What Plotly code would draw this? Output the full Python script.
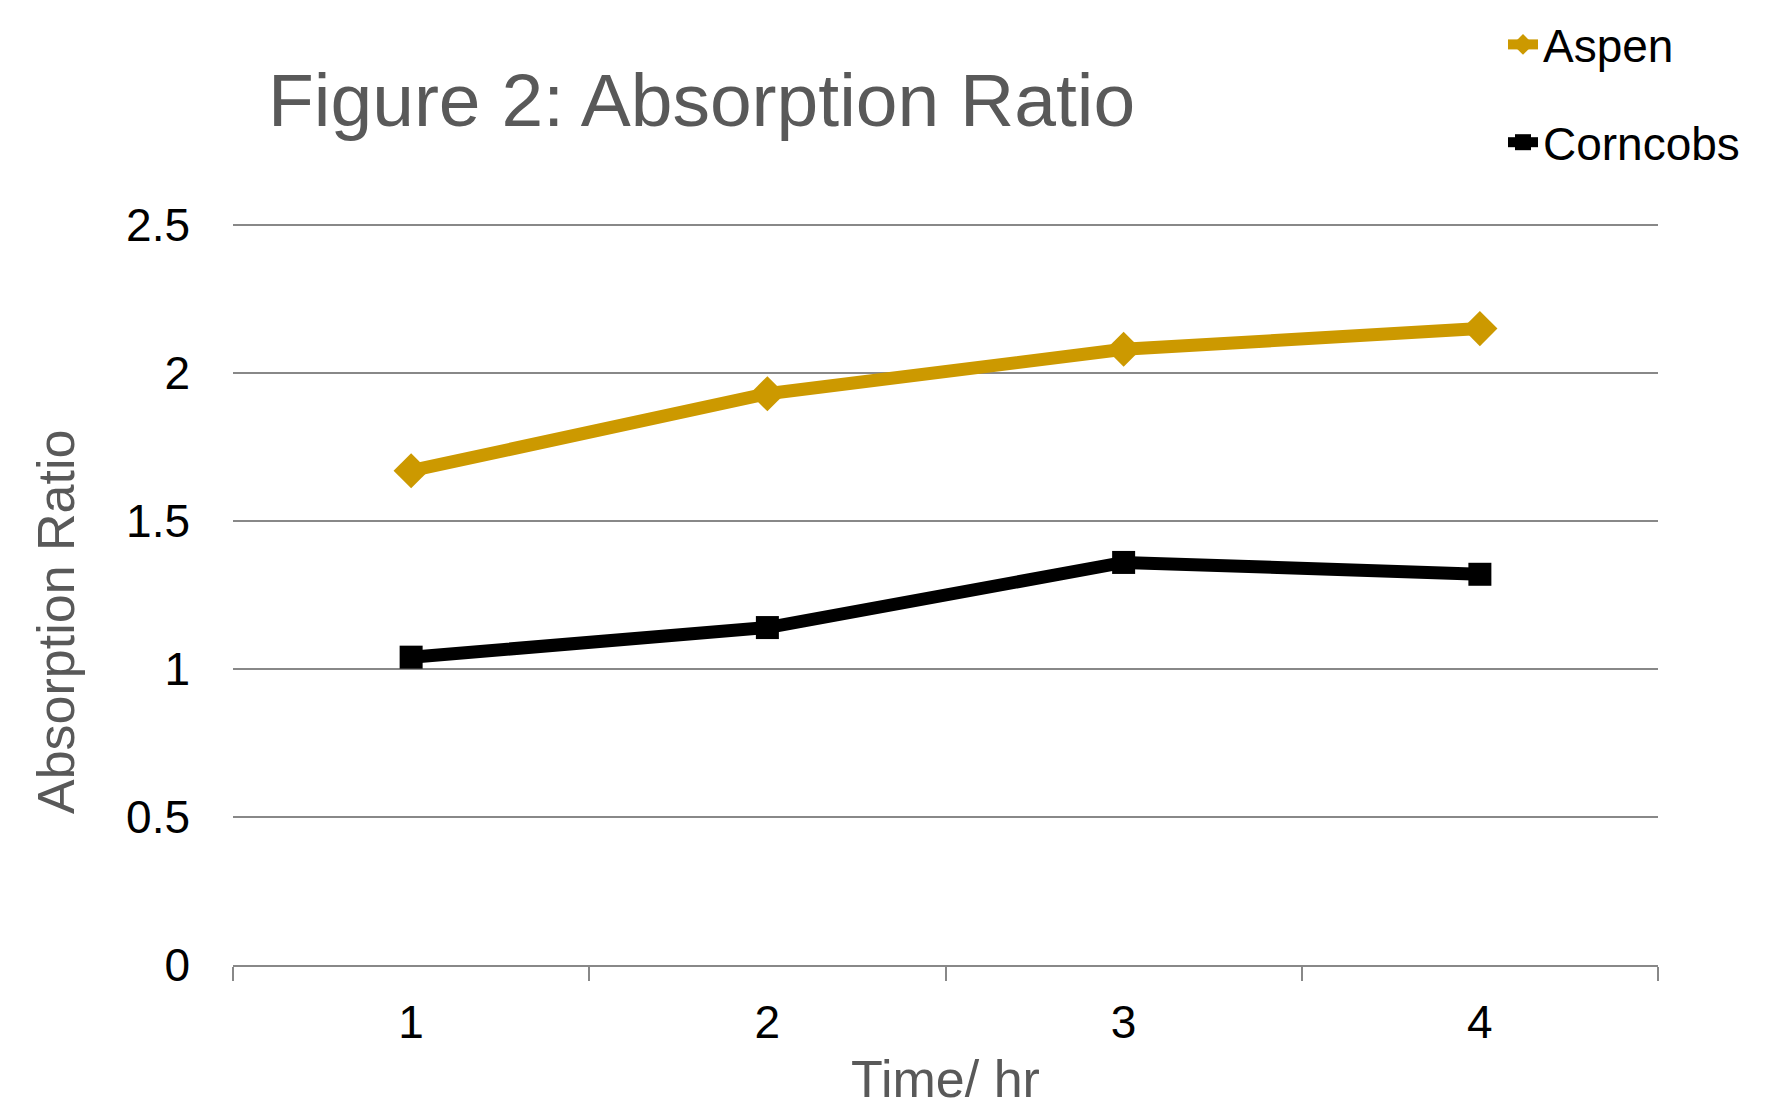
import plotly.graph_objects as go

# Absorption ratio measured over time for two substrates
hours = ["1", "2", "3", "4"]
aspen = [1.67, 1.93, 2.08, 2.15]
corncobs = [1.04, 1.14, 1.36, 1.32]
y_ticks = [0, 0.5, 1, 1.5, 2, 2.5]
y_tick_text = ["0", "0.5", "1", "1.5", "2", "2.5"]

W, H = 1785, 1108
FONT = "Liberation Sans, Arial, sans-serif"

# plot area: a little headroom above the top gridline so it is drawn
TOP, BOTTOM = 215, 143
PLOT_H = H - TOP - BOTTOM
Y_MAX = 2.5 * PLOT_H / 740

fig = go.Figure()
fig.add_trace(go.Scatter(
    x=hours, y=aspen, name="Aspen", mode="lines+markers",
    legendgroup="a",
    line=dict(color="#CC9900", width=13),
    marker=dict(symbol="diamond", size=27, color="#CC9900"),
))
fig.add_trace(go.Scatter(
    x=hours, y=corncobs, name="Corncobs", mode="lines+markers",
    legendgroup="b",
    line=dict(color="#000000", width=13),
    marker=dict(symbol="square", size=23, color="#000000"),
))

fig.update_layout(
    width=W, height=H,
    paper_bgcolor="white", plot_bgcolor="white",
    margin=dict(l=233, r=127, t=TOP, b=BOTTOM, autoexpand=False),
    font=dict(family=FONT, color="#000000"),
    title=dict(
        text="Figure 2: Absorption Ratio",
        font=dict(family=FONT, size=75, color="#595959"),
        xref="container", yref="container",
        x=268 / W, xanchor="left",
        y=1 - 100 / H, yanchor="middle",
    ),
    legend=dict(
        x=1503 / W, xref="container", xanchor="left",
        y=1 - 8 / H, yref="container", yanchor="top",
        font=dict(size=46, color="#000000"),
        traceorder="grouped", tracegroupgap=35,
        bgcolor="rgba(0,0,0,0)",
    ),
    showlegend=True,
)

fig.update_xaxes(
    type="category",
    range=[-0.5, 3.5],
    tickson="boundaries",
    ticks="outside", ticklen=14, tickwidth=2, tickcolor="#888888",
    showline=True, linecolor="#888888", linewidth=2,
    showgrid=False, zeroline=False,
    tickfont=dict(size=46, color="#000000"),
    ticklabelstandoff=16,
    title=dict(text="Time/ hr", font=dict(size=52, color="#595959"), standoff=14),
)

fig.update_yaxes(
    range=[0, Y_MAX],
    tickvals=y_ticks, ticktext=y_tick_text,
    showgrid=True, gridcolor="#888888", gridwidth=2,
    zeroline=False, showline=False, ticks="",
    tickfont=dict(size=46, color="#000000"),
    ticklabelstandoff=42,
)

# Vertical axis title, placed beside the value labels
fig.add_annotation(
    text="Absorption Ratio", textangle=-90,
    xref="paper", yref="paper",
    x=-(233 - 56) / 1425, y=(965 - 622) / PLOT_H,
    xanchor="center", yanchor="middle",
    showarrow=False,
    font=dict(family=FONT, size=52, color="#595959"),
)

fig.write_html("out.html")
